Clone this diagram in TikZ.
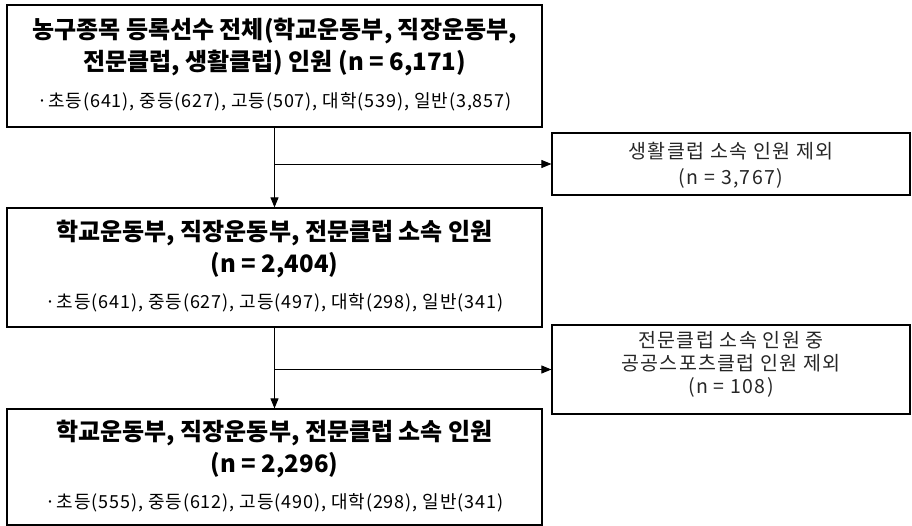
\documentclass[tikz,border=0pt]{standalone}
\usepackage{fontspec}
\setmainfont{Noto Sans CJK KR}
\usetikzlibrary{arrows.meta}
\begin{document}
\begin{tikzpicture}[x=1pt,y=-1pt,
  box/.style={draw=black,line width=1.2pt,inner sep=0pt,rectangle},
  title/.style={font=\fontsize{24}{28}\selectfont\bfseries,inner sep=0pt,anchor=center},
  sub/.style={font=\fontsize{18}{22}\selectfont\addfontfeatures{LetterSpace=5},inner sep=0pt,anchor=center},
  side/.style={font=\fontsize{19.5}{23}\selectfont\addfontfeatures{LetterSpace=7},inner sep=0pt,anchor=center,align=center,text=black!85},
  arr/.style={line width=0.9pt,-{Triangle[length=10pt,width=8pt]}}]
\useasboundingbox (0,0) rectangle (912,526);
% main boxes
\node[box,minimum width=535pt,minimum height=122pt] (b1) at (274.5,66) {};
\node[box,minimum width=535pt,minimum height=119pt] (b2) at (274.5,267.5) {};
\node[box,minimum width=535pt,minimum height=116pt] (b3) at (274.5,467) {};
% side boxes
\node[box,minimum width=358pt,minimum height=62pt] (r1) at (731,164) {};
\node[box,minimum width=358pt,minimum height=89pt] (r2) at (731,369.5) {};
% texts box 1
\node[title] (t1a) at (274.5,31) {농구종목 등록선수 전체(학교운동부, 직장운동부,};
\node[title] (t1b) at (274.5,63) {전문클럽, 생활클럽) 인원 (n = 6,171)};
\node[sub] (t1c) at (274.5,102) {·초등(641), 중등(627), 고등(507), 대학(539), 일반(3,857)};
% texts box 2
\node[title] (t2a) at (274.5,233) {학교운동부, 직장운동부, 전문클럽 소속 인원};
\node[title] (t2b) at (274.5,265) {(n = 2,404)};
\node[sub] (t2c) at (274.5,303) {·초등(641), 중등(627), 고등(497), 대학(298), 일반(341)};
% texts box 3
\node[title] (t3a) at (274.5,433) {학교운동부, 직장운동부, 전문클럽 소속 인원};
\node[title] (t3b) at (274.5,465) {(n = 2,296)};
\node[sub] (t3c) at (274.5,503) {·초등(555), 중등(612), 고등(490), 대학(298), 일반(341)};
% side texts
\node[side,font=\fontsize{19.5}{26}\selectfont\addfontfeatures{LetterSpace=7}] (s1) at (731,165) {생활클럽 소속 인원 제외\\(n = 3,767)};
\node[side] (s2) at (731,364) {전문클럽 소속 인원 중\\공공스포츠클럽 인원 제외\\(n = 108)};
% connectors
\coordinate (j1) at (b1.south |- r1.west);
\coordinate (j2) at (b2.south |- r2.west);
\draw[arr] (b1.south) -- (b2.north);
\draw[arr] (j1) -- (r1.west);
\draw[arr] (b2.south) -- (b3.north);
\draw[arr] (j2) -- (r2.west);
\end{tikzpicture}
\end{document}
